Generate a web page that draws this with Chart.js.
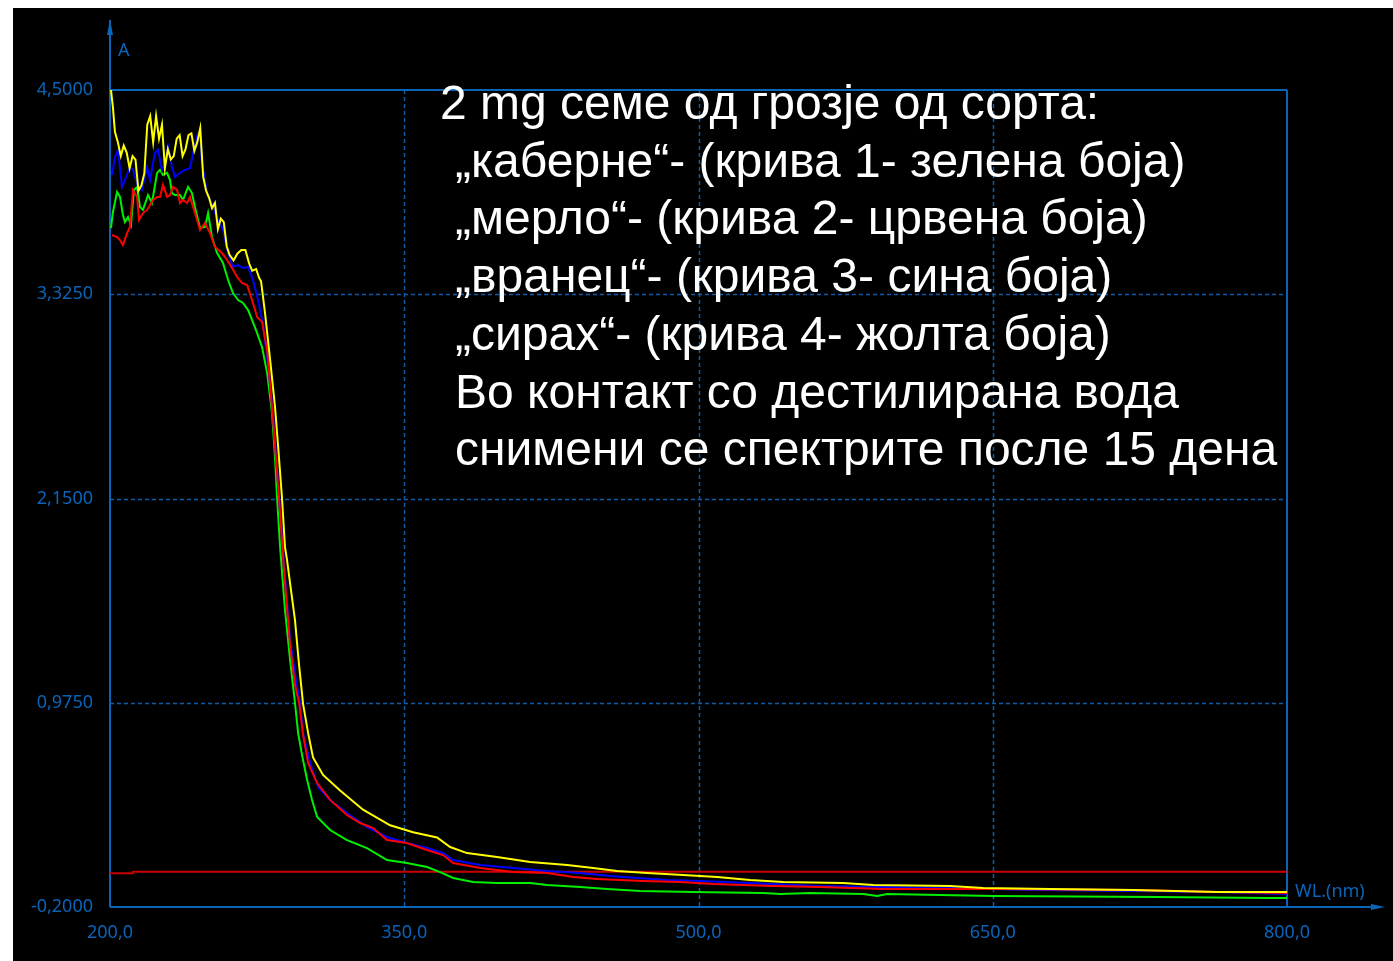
<!DOCTYPE html>
<html>
<head>
<meta charset="utf-8">
<title>Спектри - семе од грозје</title>
<script src="https://cdn.jsdelivr.net/npm/chart.js@4.4.1/dist/chart.umd.min.js"></script>
<style>
    html, body { margin: 0; background: #fff; }
    #panel { position: absolute; left: 13px; top: 8px; width: 1380px; height: 953px; background: #000; overflow: hidden; }
    #chart { position: absolute; left: 0; top: 0; }
    #note {
        position: absolute; left: 427px; top: 66px; color: #fff;
        font-family: "Liberation Sans", Arial, sans-serif; font-size: 48px; line-height: 57.7px;
        white-space: pre; pointer-events: none;
    }
    #note .in { padding-left: 15px; }
</style>
</head>
<body>
<div id="panel">
    <canvas id="chart" width="1380" height="953"></canvas>
    <div id="note"><div>2 mg семе од грозје од сорта:</div><div class="in">„каберне“- (крива 1- зелена боја)</div><div class="in">„мерло“- (крива 2- црвена боја)</div><div class="in">„вранец“- (крива 3- сина боја)</div><div class="in">„сирах“- (крива 4- жолта боја)</div><div class="in">Во контакт со дестилирана вода</div><div class="in">снимени се спектрите после 15 дена</div></div>
</div>

<script>
// ======================
// 📊 Data (wavelength nm / absorbance A)
// ======================
const xTicks = [200, 350, 500, 650, 800];
const yTicks = [-0.2, 0.975, 2.15, 3.325, 4.5];

// curve 4 - сирах (yellow)
const yellowWl = [200.5, 201.5, 202.5, 204, 205.5, 207, 208.5, 210, 211.5, 213, 214.5, 216, 217.5, 219, 220.5, 222, 223.5, 225, 226.5, 228,
    229.5, 231, 232.5, 234, 235.5, 237, 238.5, 240, 241.5, 243, 244.5, 246, 247.5, 249, 250.5, 252, 253.5, 255, 256.5, 258,
    259.5, 261, 263, 265, 267, 269, 271, 272.5, 274.5, 276, 277, 279, 281.6, 284.1, 285.7, 287.7, 289.2, 290.2, 292.3, 294.3,
    296.4, 298.4, 301, 303.5, 308.6, 317.3, 329, 342.8, 354.5, 366.7, 373.4, 382, 397.3, 414.2, 433, 446.3, 458.5, 473.8, 492.2, 509.5,
    526.3, 543.2, 573.8, 589.1, 628.3, 645.1, 679.3, 721.6, 764.5, 800];
const yellowA = [4.50, 4.40, 4.26, 4.20, 4.12, 4.18, 4.14, 4.05, 4.12, 4.10, 3.92, 3.95, 4.02, 4.30, 4.35, 4.20, 4.35, 4.22, 4.30, 4.05,
    4.16, 4.10, 4.12, 4.22, 4.24, 4.12, 4.16, 4.24, 4.25, 4.15, 4.20, 4.28, 4.00, 3.92, 3.88, 3.82, 3.85, 3.70, 3.76, 3.74,
    3.60, 3.55, 3.52, 3.56, 3.58, 3.58, 3.50, 3.46, 3.47, 3.42, 3.40, 3.22, 2.95, 2.68, 2.45, 2.15, 1.87, 1.80, 1.62, 1.45,
    1.19, 0.97, 0.80, 0.66, 0.56, 0.47, 0.36, 0.27, 0.23, 0.20, 0.145, 0.11, 0.088, 0.059, 0.042, 0.024, 0.007, -0.004, -0.016, -0.027,
    -0.045, -0.056, -0.062, -0.073, -0.079, -0.091, -0.096, -0.102, -0.114, -0.114];

// curve 3 - вранец (blue)
const blueWl = [201.0, 202.6, 204.1, 206.1, 207.6, 210.2, 211.7, 214.3, 216.3, 218.9, 220.4, 222.9, 224.5, 226.5, 228.0, 229.6, 231.6, 233.1, 235.7, 238.2,
    240.8, 243.3, 244.9, 245.9, 246.9, 249.5, 252.5, 255.1, 257.6, 260.2, 262.7, 265.3, 267.8, 270.4, 272.9, 275.5, 278.0, 280.6, 283.1, 286.2,
    288.7, 291.8, 294.8, 296.9, 298.4, 302.0, 306.1, 312.2, 320.8, 331.0, 341.2, 351.4, 361.6, 369.8, 374.9, 388.7, 405.5, 422.8, 439.7, 455.0,
    468.7, 484.0, 500.8, 526.3, 560.5, 594.2, 628.3, 670.6, 721.6, 764.5, 800];
const blueA = [4.011, 4.115, 4.155, 3.942, 3.982, 4.057, 4.040, 3.942, 3.925, 4.057, 3.982, 4.138, 4.155, 4.040, 4.080, 4.172, 4.057, 4.000, 4.023, 4.040,
    4.051, 4.184, 4.253, 4.259, 4.080, 3.907, 3.827, 3.752, 3.695, 3.562, 3.482, 3.493, 3.476, 3.482, 3.407, 3.292, 3.148, 2.918, 2.630, 2.147,
    1.767, 1.336, 1.106, 0.974, 0.801, 0.628, 0.490, 0.416, 0.341, 0.260, 0.203, 0.168, 0.139, 0.111, 0.070, 0.042, 0.024, 0.007, -0.004, -0.022,
    -0.033, -0.045, -0.050, -0.062, -0.079, -0.085, -0.091, -0.102, -0.108, -0.114, -0.125];

// curve 2 - мерло (red)
const redWl = [201.0, 203.6, 205.1, 206.6, 208.7, 210.2, 211.7, 213.8, 214.8, 216.8, 218.9, 220.4, 222.0, 224.0, 225.5, 227.0, 229.1, 230.6, 232.1, 234.2,
    235.7, 237.2, 239.3, 240.8, 243.3, 245.9, 248.4, 251.0, 253.5, 257.1, 259.7, 262.2, 264.8, 267.3, 269.9, 272.4, 275.0, 277.5, 280.1, 283.1,
    286.2, 288.7, 291.8, 294.3, 296.4, 298.4, 301.0, 305.6, 312.2, 320.8, 327.5, 334.1, 341.2, 351.4, 361.6, 369.8, 374.9, 388.7, 405.5, 422.8,
    436.1, 448.3, 471.8, 490.6, 507.5, 538.1, 562.0, 594.2, 653.8, 721.6, 764.5, 800];
const redA = [3.666, 3.654, 3.637, 3.608, 3.677, 3.712, 3.925, 3.885, 3.752, 3.792, 3.810, 3.839, 3.867, 3.885, 3.885, 3.954, 3.885, 3.896, 3.942, 3.925,
    3.850, 3.867, 3.850, 3.885, 3.792, 3.695, 3.735, 3.677, 3.597, 3.562, 3.522, 3.476, 3.424, 3.390, 3.378, 3.292, 3.194, 3.166, 3.004, 2.602,
    2.147, 1.739, 1.307, 1.077, 0.974, 0.790, 0.628, 0.513, 0.416, 0.329, 0.283, 0.254, 0.185, 0.168, 0.128, 0.099, 0.053, 0.024, 0.001, -0.004,
    -0.027, -0.039, -0.050, -0.056, -0.068, -0.079, -0.085, -0.096, -0.096, -0.102, -0.114, -0.119];

// curve 1 - каберне (green)
const greenWl = [200.5, 201.5, 203.6, 205.1, 206.6, 207.6, 209.2, 210.7, 212.2, 213.8, 215.3, 216.8, 219.4, 221.4, 224.0, 225.5, 227.0, 229.1, 230.6, 231.6,
    233.1, 235.7, 237.2, 239.8, 241.8, 243.3, 245.9, 248.4, 250.0, 252.0, 254.6, 257.6, 260.2, 262.7, 265.3, 267.8, 270.4, 272.4, 274.4, 277.5,
    280.1, 282.6, 284.1, 285.2, 286.7, 289.2, 291.8, 294.3, 295.9, 297.9, 300.5, 303.0, 305.6, 312.2, 320.8, 331.0, 341.2, 351.4, 361.6, 368.3,
    374.9, 385.1, 397.3, 414.2, 422.8, 439.7, 453.4, 470.3, 497.3, 533.0, 541.6, 556.9, 584.0, 591.1, 596.2, 650.2, 733.9, 790, 800];
const greenA = [3.706, 3.798, 3.913, 3.885, 3.781, 3.741, 3.770, 3.724, 3.925, 3.942, 3.827, 3.810, 3.896, 3.850, 4.023, 4.040, 4.011, 4.023, 3.982, 3.907,
    3.896, 3.896, 3.867, 3.942, 3.907, 3.827, 3.706, 3.712, 3.792, 3.654, 3.562, 3.505, 3.407, 3.332, 3.292, 3.275, 3.234, 3.177, 3.120, 3.022,
    2.872, 2.642, 2.389, 2.147, 1.871, 1.509, 1.221, 0.974, 0.801, 0.674, 0.531, 0.416, 0.318, 0.243, 0.185, 0.139, 0.070, 0.053, 0.030, 0.001,
    -0.033, -0.056, -0.062, -0.062, -0.073, -0.085, -0.096, -0.108, -0.114, -0.119, -0.125, -0.119, -0.125, -0.137, -0.125, -0.137, -0.142, -0.148, -0.148];

// baseline (dark red)
const baseWl = [200, 211.7, 211.7, 800];
const baseA = [-0.006, -0.006, 0.003, 0.003];

// ======================
// 🎨 Styles
// ======================
const axisBlue = "#0b64b8";
const gridBlue = "#0b5ea8";
const tickFont = '18px "Noto Sans", "Open Sans", sans-serif';

function pts(xs, ys) {
    return xs.map((v, i) => ({ x: v, y: ys[i] }));
}

const fmtY = v => v.toFixed(4).replace(".", ",");
const fmtX = v => v.toFixed(1).replace(".", ",");

// grid, frame, arrows and tick labels drawn from the chart's own scales
const framePlugin = {
    id: "frame",
    beforeDatasetsDraw(chart) {
        const { ctx, chartArea: a, scales: { x, y } } = chart;
        const line = (x1, y1, x2, y2) => { ctx.beginPath(); ctx.moveTo(x1, y1); ctx.lineTo(x2, y2); ctx.stroke(); };
        ctx.save();

        // dashed grid
        ctx.strokeStyle = gridBlue;
        ctx.lineWidth = 1.5;
        ctx.setLineDash([4, 3]);
        xTicks.slice(1, -1).forEach(v => {
            const px = Math.round(x.getPixelForValue(v)) + 0.5;
            line(px, a.top, px, a.bottom);
        });
        yTicks.slice(1, -1).forEach(v => {
            const py = Math.round(y.getPixelForValue(v)) + 0.5;
            line(a.left, py, a.right, py);
        });

        // frame + axes
        ctx.setLineDash([]);
        ctx.strokeStyle = axisBlue;
        ctx.lineWidth = 2;
        line(a.left, a.top, a.right, a.top);
        line(a.right, a.top, a.right, a.bottom);
        line(a.left, a.bottom, a.left, 12);
        line(a.left, a.bottom, a.right + 92, a.bottom);

        // arrows
        ctx.fillStyle = axisBlue;
        ctx.beginPath();
        ctx.moveTo(a.left, 11);
        ctx.lineTo(a.left - 3, 27);
        ctx.lineTo(a.left + 3, 27);
        ctx.closePath();
        ctx.fill();
        ctx.beginPath();
        ctx.moveTo(a.right + 98, a.bottom);
        ctx.lineTo(a.right + 84, a.bottom - 3);
        ctx.lineTo(a.right + 84, a.bottom + 3);
        ctx.closePath();
        ctx.fill();
        ctx.restore();
    },
    afterDraw(chart) {
        const { ctx, chartArea: a, scales: { x, y } } = chart;
        ctx.save();
        ctx.fillStyle = axisBlue;
        ctx.font = tickFont;
        ctx.textBaseline = "middle";

        ctx.textAlign = "right";
        yTicks.forEach(v => ctx.fillText(fmtY(v), a.left - 17, y.getPixelForValue(v)));

        ctx.textAlign = "center";
        xTicks.forEach(v => ctx.fillText(fmtX(v), x.getPixelForValue(v), a.bottom + 26));

        ctx.textAlign = "left";
        ctx.fillText("A", a.left + 8, 43);
        ctx.fillText("WL.(nm)", a.right + 8, a.bottom - 15);
        ctx.restore();
    }
};

// ======================
// 📈 Chart
// ======================
function initChart() {
    const el = document.getElementById("chart");
    const common = { pointRadius: 0, borderWidth: 2, tension: 0, fill: false };

    new Chart(el, {
        type: "line",
        data: {
            datasets: [
                { label: "сирах", data: pts(yellowWl, yellowA), borderColor: "#ffff00", ...common },
                { label: "мерло", data: pts(redWl, redA), borderColor: "#ff0000", ...common },
                { label: "вранец", data: pts(blueWl, blueA), borderColor: "#0000ff", ...common },
                { label: "каберне", data: pts(greenWl, greenA), borderColor: "#00f000", ...common },
                { label: "baseline", data: pts(baseWl, baseA), borderColor: "#c80000", ...common }
            ]
        },
        options: {
            responsive: false,
            animation: false,
            layout: { padding: { left: 97, top: 82, right: 106, bottom: 54 } },
            scales: {
                x: { type: "linear", min: 200, max: 800, display: false },
                y: { type: "linear", min: -0.2, max: 4.5, display: false }
            },
            plugins: {
                legend: { display: false },
                tooltip: { enabled: false }
            }
        },
        plugins: [framePlugin]
    });
}

document.addEventListener("DOMContentLoaded", initChart);
</script>
</body>
</html>
